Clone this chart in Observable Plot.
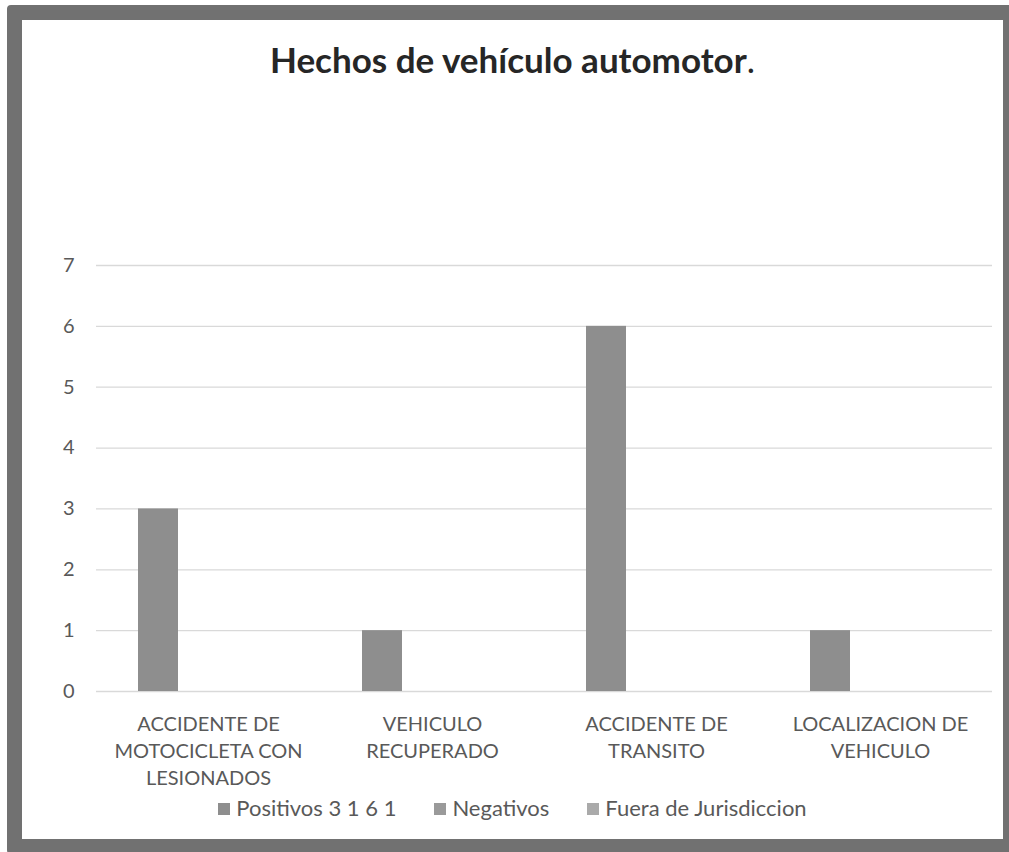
<!DOCTYPE html>
<html>
<head>
<meta charset="utf-8">
<script src="https://cdn.jsdelivr.net/npm/d3@7"></script>
<script src="https://cdn.jsdelivr.net/npm/@observablehq/plot@0.6"></script>
<style>
  html, body { margin: 0; padding: 0; background: #ffffff; width: 1009px; height: 852px; overflow: hidden; position: relative; }
  #frame { position: absolute; left: 7px; top: 5px; width: 981px; height: 819px; border: 15px solid #717171; border-radius: 4px; background: #ffffff; }
  #title { position: absolute; left: 22px; width: 981px; top: 38px; text-align: center; font-family: Lato, sans-serif; font-weight: bold; font-size: 35px; color: #262626; }
  #title span { font-weight: normal; }
  #chart { position: absolute; left: 0; top: 240px; }
  #legend { position: absolute; left: 22px; width: 981px; top: 794px; text-align: center; font-family: Lato, sans-serif; font-size: 22px; color: #595959; white-space: nowrap; }
  #legend .item { display: inline-block; margin: 0 19px; }
  #legend .sw { display: inline-block; width: 12px; height: 12px; margin-right: 6px; vertical-align: 1px; }
</style>
</head>
<body>
<div id="frame"></div>
<div id="title">Hechos de vehículo automotor<span>.</span></div>
<div id="chart"></div>
<div id="legend"></div>
<script>
const categories = [
  "ACCIDENTE DE\nMOTOCICLETA CON\nLESIONADOS",
  "VEHICULO\nRECUPERADO",
  "ACCIDENTE DE\nTRANSITO",
  "LOCALIZACION DE\nVEHICULO"
];
const series = ["Positivos 3 1 6 1", "Negativos", "Fuera de Jurisdiccion"];
const positivos = [3, 1, 6, 1];
const negativos = [0, 0, 0, 0];
const fueraDeJurisdiccion = [0, 0, 0, 0];
const yTicks = [0, 1, 2, 3, 4, 5, 6, 7];
const seriesColors = ["#8e8e8e", "#9a9a9a", "#aaaaaa"];

const seriesValues = [positivos, negativos, fueraDeJurisdiccion];
const data = [];
series.forEach((s, si) => {
  categories.forEach((c, ci) => {
    data.push({category: c, series: s, value: seriesValues[si][ci]});
  });
});

const chart = Plot.plot({
  width: 1009,
  height: 580,
  marginLeft: 95,
  marginRight: 16,
  marginTop: 25,
  marginBottom: 129,
  style: {background: "transparent", fontFamily: "Lato, sans-serif", fontSize: "20px", color: "#595959"},
  fx: {domain: categories, padding: 0, label: null},
  x: {domain: series, paddingInner: 0.2, paddingOuter: 0.84, axis: null},
  y: {domain: [0, 7], label: null},
  color: {domain: series, range: seriesColors},
  marks: [
    Plot.ruleY(yTicks, {stroke: "#d9d9d9", strokeWidth: 1.3}),
    Plot.barY(data, {fx: "category", x: "series", y: "value", fill: "series"}),
    Plot.axisY({ticks: yTicks, tickFormat: "d", tickSize: 0, tickPadding: 22, label: null, fontSize: 20, fill: "#595959"}),
    Plot.axisFx({anchor: "bottom", tickSize: 0, tickPadding: 20, label: null, lineHeight: 1.35, fontSize: 20, fill: "#595959"})
  ]
});
document.getElementById("chart").appendChild(chart);

const legend = document.getElementById("legend");
series.forEach((s, i) => {
  const item = document.createElement("span");
  item.className = "item";
  const sw = document.createElement("span");
  sw.className = "sw";
  sw.style.background = seriesColors[i];
  item.appendChild(sw);
  item.appendChild(document.createTextNode(s));
  legend.appendChild(item);
});
</script>
</body>
</html>
